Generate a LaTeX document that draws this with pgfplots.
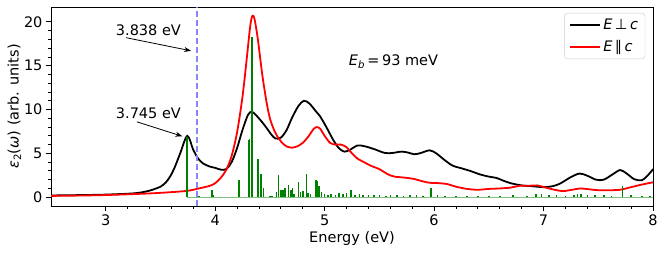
\documentclass[border=0pt]{standalone}
\usepackage{fontspec}
\setmainfont{DejaVu Sans}
\usepackage{pgfplots}
\pgfplotsset{compat=1.18}
\usetikzlibrary{arrows.meta}
\definecolor{dashblue}{RGB}{135,135,250}
\definecolor{mplgreen}{RGB}{0,128,0}
\begin{document}
\begin{tikzpicture}[font=\fontsize{14.5}{17}\selectfont]
\useasboundingbox (0pt,0pt) rectangle (665pt,253pt);
\begin{axis}[
  at={(51pt,47pt)}, anchor=south west,
  scale only axis, width=602pt, height=199pt,
  xmin=2.5, xmax=8, ymin=-1, ymax=21.7,
  xtick={3,4,5,6,7,8}, ytick={0,5,10,15,20},
  minor x tick num=4, minor y tick num=4,
  tick pos=left, tick align=outside,
  major tick length=5pt, minor tick length=3pt,
  every tick/.style={black, line width=0.9pt},
  axis line style={line width=0.9pt},
  /pgf/number format/assume math mode=true,
  xlabel={Energy (eV)},
  ylabel={\textit{ε}\textsubscript{2}(\textit{ω}) (arb. units)},
  xlabel style={yshift=1pt},
  ylabel style={yshift=-4pt},
  legend style={at={(0.987,0.97)}, anchor=north east, draw=black!20, rounded corners=3pt,
    inner xsep=5pt, inner ysep=4pt, row sep=5pt, cells={anchor=west}},
  legend image code/.code={\draw[#1] (0pt,0pt) -- (30pt,0pt);},
]
\addlegendimage{black, line width=2pt}
\addlegendentry{\textit{E}\,⊥\,\textit{c}}
\addlegendimage{red, line width=2pt}
\addlegendentry{\textit{E}\,∥\,\textit{c}}
\addplot[black, line width=1.8pt, smooth, tension=0.5, forget plot] coordinates {
(2.5,0.2)(2.8,0.25)(3.0,0.3)(3.2,0.4)(3.3,0.5)(3.4,0.75)(3.5,1.2)(3.55,1.7)(3.59,2.4)(3.63,3.4)(3.68,5.0)(3.745,7.0)
(3.8,5.4)(3.845,4.4)(3.89,3.85)(3.95,3.5)(4.0,3.35)(4.05,3.15)(4.1,3.2)(4.15,4.0)(4.2,5.6)(4.25,7.7)(4.3,9.4)(4.335,9.75)
(4.37,9.4)(4.42,8.7)(4.47,7.9)(4.51,7.2)(4.55,6.7)(4.6,6.8)(4.65,7.6)(4.7,9.0)(4.76,10.4)(4.81,11.0)(4.86,10.7)(4.92,9.8)
(4.96,9.2)(5.02,7.9)(5.08,6.5)(5.13,5.6)(5.18,5.2)(5.23,5.4)(5.3,5.9)(5.37,5.8)(5.45,5.5)(5.55,5.05)(5.62,5.05)(5.7,5.2)
(5.76,5.1)(5.82,4.9)(5.88,5.05)(5.96,5.35)(6.02,5.0)(6.1,4.2)(6.17,3.6)(6.25,3.3)(6.33,3.0)(6.42,2.6)(6.5,2.35)(6.57,2.2)
(6.63,1.9)(6.7,1.6)(6.8,1.35)(6.9,1.25)(7.0,1.15)(7.08,1.25)(7.15,1.55)(7.25,2.3)(7.33,2.7)(7.4,2.45)(7.48,2.0)(7.55,2.0)
(7.63,2.6)(7.7,3.1)(7.76,2.7)(7.83,2.05)(7.9,1.95)(7.96,2.6)(8.0,3.2)};
\addplot[red, line width=1.8pt, smooth, tension=0.5, forget plot] coordinates {
(2.5,0.15)(2.8,0.2)(3.0,0.25)(3.3,0.38)(3.5,0.5)(3.74,0.72)(3.85,1.0)(3.95,1.3)(4.0,1.6)(4.05,2.2)(4.1,3.1)(4.15,4.7)
(4.2,7.4)(4.25,11.5)(4.29,16.0)(4.32,19.5)(4.34,20.7)(4.36,20.3)(4.39,18.0)(4.43,14.0)(4.47,10.8)(4.5,9.0)(4.54,7.6)
(4.58,6.7)(4.62,6.1)(4.66,5.75)(4.7,5.65)(4.75,5.8)(4.8,6.2)(4.85,6.9)(4.9,7.8)(4.93,8.0)(4.96,7.8)(5.0,7.0)(5.05,6.2)
(5.1,6.0)(5.15,6.0)(5.2,5.7)(5.25,5.0)(5.3,4.4)(5.36,4.0)(5.42,3.6)(5.5,3.2)(5.58,2.6)(5.64,2.35)(5.72,2.25)(5.81,2.1)
(5.9,1.8)(5.96,1.65)(6.05,1.6)(6.12,1.5)(6.2,1.2)(6.3,0.95)(6.4,0.85)(6.5,0.95)(6.6,1.0)(6.7,1.1)(6.78,1.3)(6.86,1.3)
(6.94,1.35)(7.02,1.1)(7.1,0.85)(7.18,0.7)(7.26,0.85)(7.34,1.0)(7.42,0.9)(7.5,0.8)(7.6,0.8)(7.7,0.85)(7.8,1.15)(7.9,1.45)(8.0,1.7)};
\addplot[mplgreen!50, line width=0.8pt, forget plot] coordinates {(3.74,0)(8,0)};
\addplot[ycomb, mplgreen, line width=1.6pt, forget plot] coordinates {
(3.745,6.85)(3.85,0.12)(3.97,0.85)(3.98,0.3)(4.22,1.95)(4.305,6.5)(4.315,6.6)(4.335,18.3)(4.39,4.35)(4.42,2.6)(4.44,1.1)
(4.5,0.1)(4.52,0.15)(4.56,0.6)(4.58,2.5)(4.6,0.8)(4.62,0.8)(4.64,1.0)(4.67,1.4)(4.69,0.8)(4.705,1.0)(4.72,0.4)(4.76,1.75)
(4.78,0.6)(4.8,0.7)(4.835,2.7)(4.85,0.5)(4.87,0.4)(4.92,2.0)(4.935,1.9)(4.95,1.3)(4.97,0.6)(5.0,0.4)(5.03,0.3)(5.06,0.4)
(5.1,0.3)(5.13,0.5)(5.17,0.4)(5.2,0.5)(5.24,0.8)(5.28,0.3)(5.32,0.4)(5.35,0.3)(5.4,0.3)(5.45,0.2)(5.5,0.3)(5.56,0.15)
(5.6,0.2)(5.66,0.3)(5.72,0.15)(5.78,0.2)(5.84,0.2)(5.9,0.15)(5.97,1.0)(6.03,0.25)(6.1,0.15)(6.2,0.1)(6.3,0.15)(6.4,0.1)
(6.5,0.15)(6.6,0.1)(6.72,0.2)(6.85,0.1)(6.93,0.4)(6.98,0.35)(7.05,0.2)(7.12,0.3)(7.2,0.15)(7.28,0.3)(7.31,0.35)(7.34,0.4)
(7.4,0.25)(7.47,0.2)(7.55,0.2)(7.62,0.1)(7.72,1.25)(7.8,0.2)(7.9,0.15)(7.97,0.15)};
\addplot[dashblue, dash pattern=on 6pt off 3pt, line width=2pt, forget plot] coordinates {(3.838,-1) (3.838,21.7)};
\node at (axis cs:3.39,19.1) {3.838 eV};
\draw[-{Stealth[length=7pt,width=5pt]}, line width=0.8pt] (axis cs:3.185,18.2) -- (axis cs:3.78,16.7);
\node at (axis cs:3.39,9.6) {3.745 eV};
\draw[-{Stealth[length=7pt,width=5pt]}, line width=0.8pt] (axis cs:3.285,8.6) -- (axis cs:3.70,6.95);
\node[anchor=west] at (axis cs:5.19,15.5) {\textit{E}\textsubscript{\textit{b}}\,=\,93 meV};
\end{axis}
\end{tikzpicture}
\end{document}
